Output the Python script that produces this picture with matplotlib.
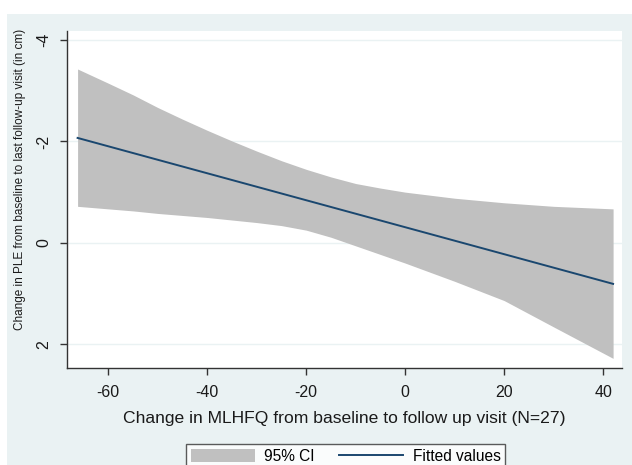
import matplotlib
matplotlib.use("Agg")
import matplotlib.pyplot as plt
from matplotlib.patches import Rectangle

# Data
x_grid = [-66.2, -60, -55, -50, -45, -40, -35, -30, -25, -20, -15, -10, -5, 0, 5, 10, 20, 30, 42.0]
ci_upper = [-3.43, -3.15, -2.92, -2.67, -2.44, -2.22, -2.01, -1.81, -1.62, -1.45, -1.30, -1.17,
            -1.08, -1.00, -0.94, -0.88, -0.79, -0.72, -0.67]
ci_lower = [-0.72, -0.67, -0.63, -0.58, -0.54, -0.50, -0.45, -0.40, -0.34, -0.25, -0.11, 0.06,
            0.23, 0.40, 0.58, 0.76, 1.14, 1.66, 2.28]
fit_x = [-66.2, 42.0]
fit_y = [-2.07, 0.81]

x_ticks = [-60, -40, -20, 0, 20, 40]
y_ticks = [-4, -2, 0, 2]

plt.rcParams['font.family'] = ['Liberation Sans', 'DejaVu Sans']
plt.rcParams['axes.unicode_minus'] = False

W, H = 632, 465
fig = plt.figure(figsize=(W / 100, H / 100), dpi=100)
fig.patch.set_facecolor('white')
bg = '#EAF2F3'
fig.add_artist(Rectangle((7 / W, 0), 1, 1 - 14 / H, transform=fig.transFigure,
                         facecolor=bg, edgecolor='none', zorder=-10))

ax = fig.add_axes([66.7 / W, 1 - 368 / H, (622 - 66.7) / W, (368 - 31) / H])
ax.set_facecolor('white')

ax.fill_between(x_grid, ci_upper, ci_lower, color='#C0C0C0', linewidth=0,
                label='95% CI', zorder=2)
ax.plot(fit_x, fit_y, color='#1A476F', linewidth=1.4, label='Fitted values', zorder=3)

ax.set_xlim(-68.4, 43.8)
ax.set_ylim(2.47, -4.18)
ax.set_xticks(x_ticks)
ax.set_xticklabels([str(v) for v in x_ticks])
ax.set_yticks(y_ticks)
ax.set_yticklabels([str(v) for v in y_ticks], rotation=90, va='center')
ax.grid(axis='y', color=bg, linewidth=1.0, zorder=0)
ax.set_axisbelow(True)

for s in ['top', 'right']:
    ax.spines[s].set_visible(False)
for s in ['left', 'bottom']:
    ax.spines[s].set_color('#333333')
    ax.spines[s].set_linewidth(1.0)

ax.tick_params(axis='both', length=5, width=1, color='#333333',
               labelsize=11.5, labelcolor='#1a1a1a')
ax.tick_params(axis='x', pad=7)
ax.tick_params(axis='y', pad=6)

ax.set_xlabel('Change in MLHFQ from baseline to follow up visit (N=27)',
              fontsize=12.6, color='#1a1a1a', labelpad=8)
ax.set_ylabel('Change in PLE from baseline to last follow-up visit (in cm)',
              fontsize=8.45, color='#1a1a1a')
ax.yaxis.set_label_coords((26 - 66.7) / 555.3, (368 - 179) / 337)

leg = fig.legend(loc='upper center', bbox_to_anchor=(345.7 / W, 1 - 444 / H),
                 ncol=2, frameon=True, fancybox=False, borderaxespad=0,
                 fontsize=11.2, handlelength=4.1, handleheight=0.9,
                 handletextpad=0.6, columnspacing=1.6, borderpad=0.3)
leg.get_frame().set_edgecolor('#333333')
leg.get_frame().set_linewidth(1.0)
leg.get_frame().set_facecolor('white')

fig.savefig('out.png', dpi=100, facecolor=fig.get_facecolor())
